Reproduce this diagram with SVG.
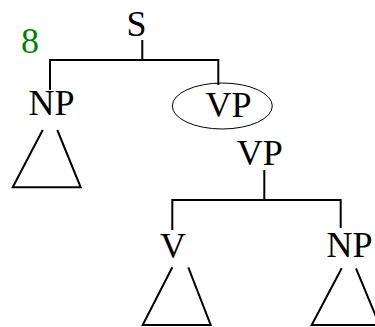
<svg xmlns="http://www.w3.org/2000/svg" width="375" height="327" viewBox="0 0 375 327">
<style>
text{font-family:"Liberation Serif","Times New Roman",serif;font-size:36px;fill:#000;text-anchor:middle}
.g{fill:#008000}
.ln{stroke:#000;stroke-width:2;fill:none}
.tri{stroke:#000;stroke-width:2;fill:none;stroke-linejoin:miter}
</style>
<rect width="375" height="327" fill="#fff"/>
<g id="connectors">
<path class="ln" d="M142.3,40 V60 M50,90 V60 H218.3 V85"/>
<path class="ln" d="M264.3,170 V200 M172.3,230 V200 H340.7 V228"/>
</g>
<g id="S"><text x="136.5" y="35.5">S</text></g>
<g id="num8"><text class="g" x="30" y="53">8</text></g>
<g id="NP1"><text x="51.5" y="115">NP</text>
<path class="tri" d="M42.7,130 L12.7,187.3 H80.7 L57.3,130"/></g>
<g id="VP1"><ellipse cx="222.3" cy="106" rx="50" ry="23" fill="none" stroke="#000" stroke-width="1"/>
<text x="228.5" y="116.5">VP</text></g>
<g id="VP2"><text x="259.7" y="165">VP</text></g>
<g id="V"><text x="173" y="257.5">V</text>
<path class="tri" d="M172.3,267.3 L142.7,325 H210.7 L188.3,267.3"/></g>
<g id="NP2"><text x="349.5" y="256.5">NP</text>
<path class="tri" d="M341.7,268.3 L311.7,325 H379.5 L356,268.3"/></g>
</svg>
